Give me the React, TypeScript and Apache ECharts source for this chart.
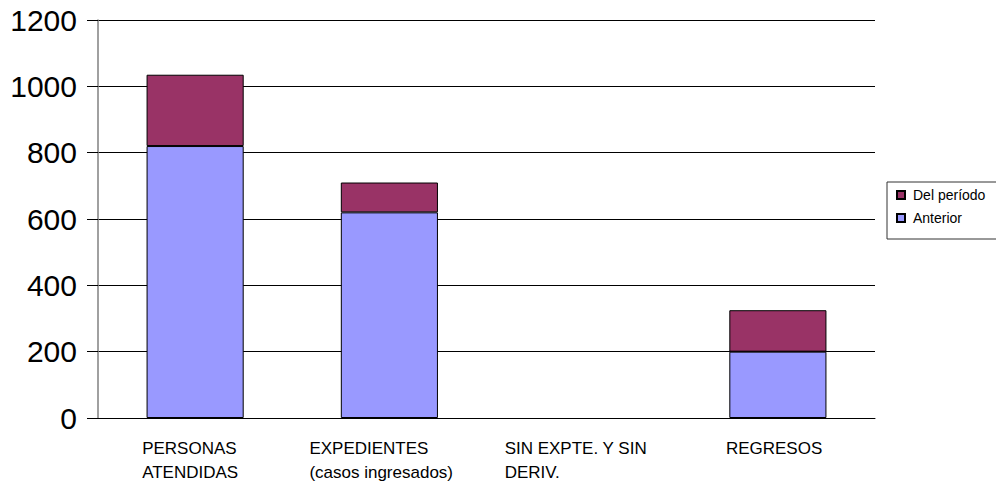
import React, { useEffect, useRef } from "react";
import * as echarts from "echarts";

const categories = [
  "PERSONAS\nATENDIDAS",
  "EXPEDIENTES\n(casos ingresados)",
  "SIN EXPTE. Y SIN\nDERIV.",
  "REGRESOS",
];
const anterior = [820, 620, 0, 200];
const delPeriodo = [215, 90, 0, 125];
const yTicks = { min: 0, max: 1200, interval: 200 };
const labelBlockWidths = [106, 160, 158, 104];

export default function App() {
  const ref = useRef<HTMLDivElement>(null);
  useEffect(() => {
    if (!ref.current) return;
    const chart = echarts.init(ref.current, undefined, { renderer: "svg" });
    const font = "'Liberation Sans', Arial, sans-serif";
    const rich: Record<string, any> = {};
    labelBlockWidths.forEach((w, i) => {
      rich["c" + i] = {
        width: w,
        align: "left",
        fontSize: 17,
        lineHeight: 24,
        color: "#000",
        fontFamily: font,
      };
    });
    const toBarData = (arr: number[]) =>
      arr.map((v) => (v === 0 ? { value: v, itemStyle: { borderWidth: 0, opacity: 0 } } : v));
    chart.setOption({
      animation: false,
      textStyle: { fontFamily: font },
      grid: { left: 98, right: 121, top: 20, bottom: 71, containLabel: false },
      legend: {
        data: ["Del período", "Anterior"],
        orient: "vertical",
        left: 887,
        top: 182,
        padding: [6, 12, 14, 9],
        itemWidth: 8,
        itemHeight: 8,
        itemGap: 9,
        borderColor: "#333",
        borderWidth: 1,
        icon: "rect",
        textStyle: { fontSize: 14, color: "#000", fontFamily: font, padding: [0, 0, 0, 3] },
      },
      xAxis: {
        type: "category",
        data: categories,
        axisLine: { lineStyle: { color: "#000", width: 1 } },
        axisTick: { alignWithLabel: true, length: 11, lineStyle: { color: "#444" } },
        axisLabel: {
          margin: 18,
          interval: 0,
          formatter: (value: string, idx: number) =>
            value
              .split("\n")
              .map((l) => `{c${idx}|${l}}`)
              .join("\n"),
          rich,
        },
        splitLine: { show: false },
      },
      yAxis: {
        type: "value",
        min: yTicks.min,
        max: yTicks.max,
        interval: yTicks.interval,
        axisLine: { show: true, lineStyle: { color: "#808080", width: 1.5 } },
        axisTick: { show: true, length: 11, lineStyle: { color: "#000" } },
        axisLabel: {
          fontSize: 30,
          color: "#000",
          margin: 21,
          fontFamily: font,
          formatter: (v: number) => String(v),
        },
        splitLine: { lineStyle: { color: "#000", width: 1 } },
      },
      series: [
        {
          name: "Anterior",
          type: "bar",
          stack: "total",
          barWidth: "50%",
          data: toBarData(anterior),
          itemStyle: { color: "#9999FF", borderColor: "#000", borderWidth: 1 },
        },
        {
          name: "Del período",
          type: "bar",
          stack: "total",
          barWidth: "50%",
          data: toBarData(delPeriodo),
          itemStyle: { color: "#993366", borderColor: "#000", borderWidth: 1 },
        },
      ],
    });
    return () => chart.dispose();
  }, []);
  return <div ref={ref} style={{ width: 996, height: 489, position: "absolute", left: 0, top: 0 }} />;
}
